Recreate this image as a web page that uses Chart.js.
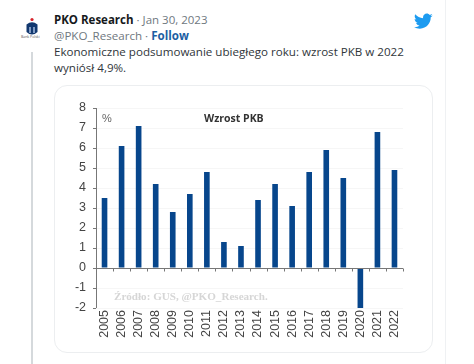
<!DOCTYPE html>
<html lang="pl">
<head>
<meta charset="utf-8">
<script src="https://cdn.jsdelivr.net/npm/chart.js@4/dist/chart.umd.min.js"></script>
<style>
html,body{margin:0;padding:0;background:#fff;width:474px;height:364px;overflow:hidden}
body{position:relative;font-family:"Open Sans","Noto Sans",sans-serif;color:#1f2328}
.t{position:absolute;white-space:nowrap;line-height:16px}
#tweet{position:absolute;left:-20px;top:-20px;width:466px;height:420px;border:1.5px solid #eff1f3;border-radius:14px;box-sizing:border-box}
#thread{position:absolute;left:31px;top:52px;width:1.5px;height:312px;background:#d5d9dc}
#card{position:absolute;left:54px;top:85px;width:379px;height:268px;border:1.5px solid #eceef0;border-radius:13px;box-sizing:border-box}
#wrap{position:absolute;left:0;top:0;width:474px;height:364px}
canvas{display:block}
</style>
</head>
<body>
<div id="tweet"></div>
<div id="thread"></div>
<div id="card"></div>
<svg style="position:absolute;left:24px;top:17px" width="16" height="24" viewBox="0 0 16 24">
<circle cx="8" cy="2.5" r="1.6" fill="#d6222a"/>
<path d="M2.5 7.5 Q8 3 13.5 7.5 L13.5 15 Q8 20 2.5 15Z" fill="#12386f"/>
<path d="M5 10h2v6H5zM9 10h2v6H9z" fill="#7f9ac2"/>
</svg>
<div class="t" style="left:21px;top:34px;font-size:3.5px;line-height:5px;color:#555">Bank Polski</div>
<div class="t" style="left:54px;top:12px;font-size:11.5px;"><b style="font-weight:700;color:#16191c">PKO Research</b><span style="color:#6f7880"> · Jan 30, 2023</span></div>
<div class="t" style="left:54px;top:28px;font-size:11.6px;color:#6f7880">@PKO_Research · <b style="color:#1c5fa3;font-weight:700">Follow</b></div>
<div class="t" style="left:54px;top:44px;font-size:11.6px;color:#30363b">Ekonomiczne podsumowanie ubiegłego roku: wzrost PKB w 2022</div>
<div class="t" style="left:54px;top:60px;font-size:11.6px;color:#30363b">wyniósł 4,9%.</div>
<svg style="position:absolute;left:414px;top:13px" width="19" height="17" viewBox="0 0 24 20">
<path fill="#1d9bf0" d="M23.6 2.4c-.9.4-1.8.7-2.8.8 1-.6 1.8-1.5 2.1-2.7-.9.6-2 1-3.1 1.2C18.9.7 17.6 0 16.2 0c-2.7 0-4.8 2.2-4.8 4.8 0 .4 0 .8.1 1.1C7.5 5.7 3.900 3.800 1.600.9c-.4.7-.7 1.600-.7 2.500 0 1.700.9 3.200 2.100 4-.8 0-1.500-.2-2.200-.6v.1c0 2.300 1.700 4.300 3.900 4.700-.4.1-.8.2-1.300.2-.3 0-.6 0-.9-.1.6 1.900 2.400 3.300 4.500 3.400-1.700 1.300-3.800 2.100-6 2.100-.4 0-.8 0-1.200-.1C2.100 18.100 4.700 19 7.400 19c8.900 0 13.700-7.400 13.700-13.700v-.6c1-.7 1.800-1.500 2.500-2.300z"/>
</svg>
<div id="wrap"><canvas id="c" width="474" height="364"></canvas></div>
<script>
const years = ["2005","2006","2007","2008","2009","2010","2011","2012","2013","2014","2015","2016","2017","2018","2019","2020","2021","2022"];
const growth = [3.5,6.1,7.1,4.2,2.8,3.7,4.8,1.3,1.1,3.4,4.2,3.1,4.8,5.9,4.5,-2.0,6.8,4.9];
const chartTitle = "Wzrost PKB";
const unitLabel = "%";
const sourceNote = "Źródło: GUS, @PKO_Research.";
const tickColor = "#444444";

const overlay = {
  id: "overlay",
  afterDraw(chart) {
    const g = chart.ctx, y = chart.scales.y;
    g.save();
    g.textBaseline = "middle";
    g.textAlign = "left";
    g.fillStyle = "#333";
    g.font = "bold 10.5px 'Open Sans', sans-serif";
    g.fillText(chartTitle, 204, y.getPixelForValue(7.45));
    g.fillStyle = "#666";
    g.font = "11px 'Liberation Sans', sans-serif";
    g.fillText(unitLabel, 102, y.getPixelForValue(7.45));
    g.fillStyle = "#d6d6d6";
    g.font = "bold 11.1px 'Liberation Serif', serif";
    g.fillText(sourceNote, 114, y.getPixelForValue(-1.45));
    g.restore();
  }
};

new Chart(document.getElementById("c"), {
  type: "bar",
  data: { labels: years, datasets: [{ data: growth, backgroundColor: "#07468c", barPercentage: 0.33, categoryPercentage: 1 }] },
  options: {
    responsive: false,
    animation: false,
    events: [],
    layout: { padding: { left: 0, top: 108, right: 71, bottom: 0 } },
    plugins: { legend: { display: false }, tooltip: { enabled: false } },
    scales: {
      x: {
        position: "bottom",
        afterFit(s) { s.height = 56; },
        grid: { display: false, drawTicks: false },
        border: { display: false },
        ticks: { minRotation: 90, maxRotation: 90, autoSkip: false, color: tickColor, font: { family: "Liberation Sans", size: 12.5 }, padding: 2 }
      },
      y: {
        min: -2, max: 8,
        afterFit(s) { s.width = 96; },
        grid: { color: "#f6f6f6", lineWidth: 1, drawTicks: false },
        border: { display: false },
        ticks: { stepSize: 1, color: tickColor, font: { family: "Liberation Sans", size: 12.5 }, padding: 10 }
      }
    }
  },
  plugins: [overlay, {
    id: "axes",
    afterDatasetsDraw(chart) {
      const g = chart.ctx, y = chart.scales.y, x = chart.scales.x, a = chart.chartArea;
      g.save();
      g.strokeStyle = "#777";
      g.lineWidth = 1;
      g.beginPath();
      g.moveTo(a.left + .5, a.top); g.lineTo(a.left + .5, a.bottom);
      y.ticks.forEach(t => { const p = Math.round(y.getPixelForValue(t.value)) + .5; g.moveTo(a.left - 3, p); g.lineTo(a.left, p); });
      const z = Math.round(y.getPixelForValue(0)) + .5;
      g.moveTo(a.left, z); g.lineTo(a.right, z);
      for (let i = 0; i <= years.length; i++) { const p = Math.round(x.getPixelForValue(i - .5)) + .5; g.moveTo(p, z); g.lineTo(p, z + 3); }
      g.stroke();
      g.restore();
    }
  }]
});
</script>
</body>
</html>
